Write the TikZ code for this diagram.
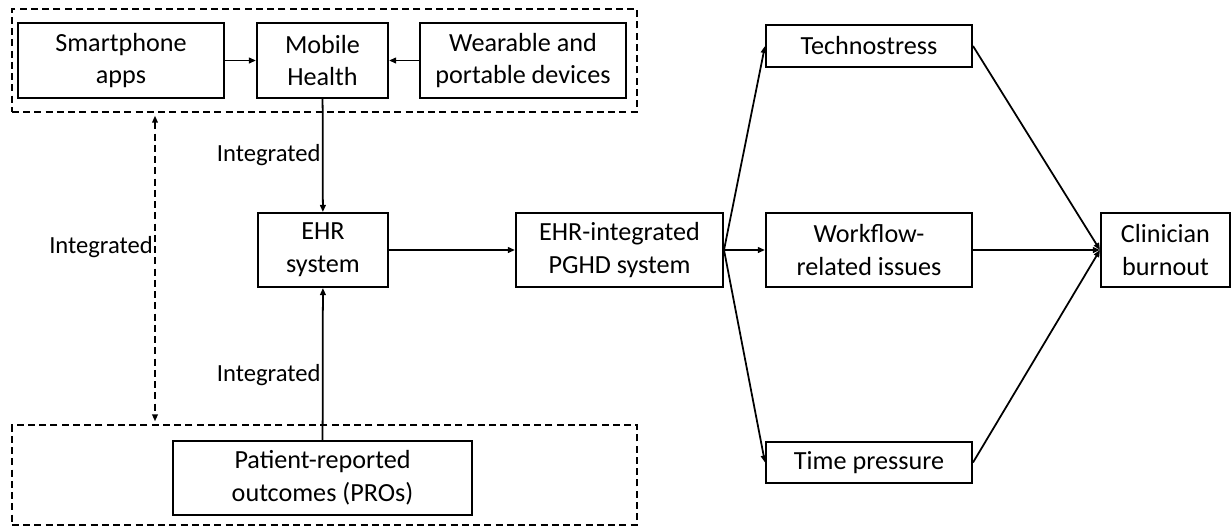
\documentclass[tikz,border=0pt]{standalone}
\usepackage{fontspec}
\setmainfont{Carlito}
\usetikzlibrary{arrows.meta}

\begin{document}
\begin{tikzpicture}[x=0.025cm, y=-0.025cm, >={Triangle[length=5pt,width=4pt]}]
	\tikzset{box/.style 2 args={draw, line width=1.4pt, align=center, inner sep=0pt, minimum width=#1, minimum height=#2, font=\fontsize{18.6}{23.4}\selectfont}};
	\tikzset{grp/.style 2 args={draw, line width=1.2pt, dash pattern=on 5pt off 3pt, inner sep=0pt, minimum width=#1, minimum height=#2}};
	\tikzset{lbl/.style={font=\fontsize{17.5}{20}\selectfont, inner sep=1pt}};
	\tikzset{conn/.style={line width=1.25pt, ->}};
	\useasboundingbox (0,0) rectangle (1231,528);
	
	\node[grp={15.625cm}{2.575cm}] (grpa) at (324.5,60.5) {};
	\node[grp={15.625cm}{2.5cm}] (grpb) at (324.5,475) {};
	
	\node[box={5.15cm}{1.875cm}] (smart) at (121,60.5) {Smartphone\\apps};
	\node[box={3.275cm}{1.875cm}] (mob) at (322.5,60.5) {Mobile\\Health};
	\node[box={5.15cm}{1.875cm}] (wear) at (523,60.5) {Wearable and\\portable devices};
	
	\node[box={3.25cm}{1.85cm}] (ehr) at (323,250) {EHR\\system};
	\node[box={5.175cm}{1.85cm}] (pghd) at (619.5,250) {EHR-integrated\\PGHD system};
	\node[box={7.475cm}{1.85cm}] (pros) at (322.5,478) {Patient-reported\\outcomes (PROs)};
	
	\node[box={5.15cm}{1.05cm}] (tech) at (869,46) {Technostress};
	\node[box={5.15cm}{1.85cm}] (work) at (869,250) {Workflow-\\related issues};
	\node[box={5.15cm}{1.025cm}] (time) at (869,462.5) {Time pressure};
	\node[box={3.225cm}{1.85cm}] (clin) at (1165.5,250) {Clinician\\burnout};
	
	\coordinate (ia) at (155,0);
	
	\draw[conn] (smart)--(mob);
	\draw[conn] (wear)--(mob);
	\draw[conn] (mob)-- node[lbl, left, pos=0.5] {Integrated} (ehr);
	\draw[conn] (pros)-- node[lbl, left, pos=0.43] {Integrated} (ehr);
	\draw[line width=1.2pt, <->, dash pattern=on 5pt off 3pt, shorten <=2pt, shorten >=2pt] (grpa.south -| ia)-- node[lbl, left, pos=0.43] {Integrated} (grpb.north -| ia);
	
	\draw[conn] (ehr)--(pghd);
	\draw[conn] (pghd.east)--(tech.west);
	\draw[conn] (pghd.east)--(work.west);
	\draw[conn] (pghd.east)--(time.west);
	\draw[conn] (tech.east)--(clin.west);
	\draw[conn] (work.east)--(clin.west);
	\draw[conn] (time.east)--(clin.west);
\end{tikzpicture}
\end{document}
